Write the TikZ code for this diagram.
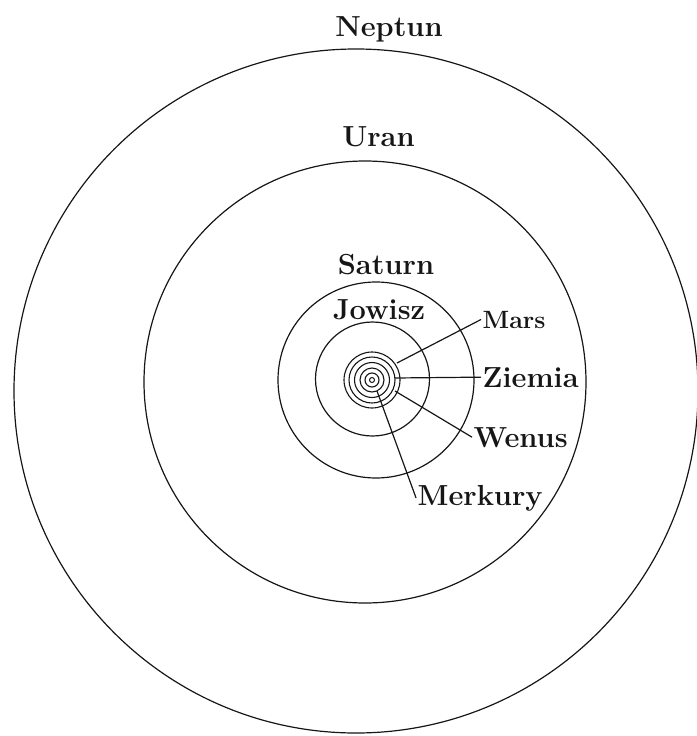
\documentclass[tikz,border=0pt]{standalone}
\usepackage{xcolor}
\definecolor{ink}{HTML}{161616}

\begin{document}
\begin{tikzpicture}[x=1pt, y=-1pt, line width=1.2pt, color=ink,
    every node/.style={font=\fontsize{29}{30}\selectfont\bfseries, inner sep=1pt}]
  \useasboundingbox (0,0) rectangle (696,736);
  \coordinate (sun) at (372,380);
  \draw (356,391) circle[radius=342];
  \draw (365,382) circle[radius=221];
  \draw (376,380) circle[radius=98];
  \draw (372.5,379) circle[radius=57];
  \foreach \r in {28,23,17.5,12,7}
    \draw[line width=1.1pt] (sun) circle[radius=\r];
  \draw[line width=1pt] (sun) circle[radius=2.5];
  \node[anchor=base] (neptun) at (389,36.5) {Neptun};
  \node[anchor=base] (uran) at (378.5,146.5) {Uran};
  \node[anchor=base] (saturn) at (386,274) {Saturn};
  \node[anchor=base] (jowisz) at (379,319) {Jowisz};
  \node[anchor=base west, font=\fontsize{25}{30}\selectfont\bfseries] (mars) at (481,328) {Mars};
  \node[anchor=base west] (ziemia) at (481,387) {Ziemia};
  \node[anchor=base west] (wenus) at (472,447) {Wenus};
  \node[anchor=base west] (merkury) at (416,505) {Merkury};
  \coordinate (mars-orbit) at (397,363);
  \coordinate (ziemia-orbit) at (395,378);
  \coordinate (wenus-orbit) at (395,391);
  \coordinate (merkury-orbit) at (377,391);
  \draw (mars-orbit) -- (mars.west);
  \draw (ziemia-orbit) -- (ziemia.west);
  \draw (wenus-orbit) -- (wenus.west);
  \draw (merkury-orbit) -- (merkury.west);
\end{tikzpicture}
\end{document}
